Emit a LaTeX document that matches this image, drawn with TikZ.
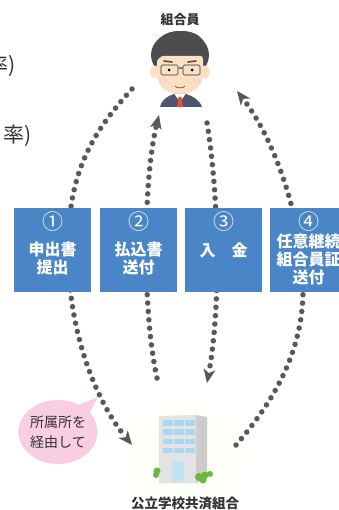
\documentclass[tikz,border=0pt]{standalone}
\usepackage{fontspec}
\setmainfont{Noto Sans CJK JP}
\usetikzlibrary{arrows.meta,shapes.callouts}
\definecolor{boxblue}{RGB}{74,134,199}
\definecolor{dotgray}{RGB}{88,88,88}
\definecolor{bubblepink}{RGB}{248,206,224}
\definecolor{hair}{RGB}{77,77,80}
\definecolor{skin}{RGB}{253,224,196}
\definecolor{suit}{RGB}{76,86,112}
\definecolor{tiered}{RGB}{232,80,58}
\definecolor{winblue}{RGB}{170,214,240}
\definecolor{leaf}{RGB}{106,184,60}
\definecolor{txt}{RGB}{51,51,51}
\tikzset{
  procbox/.style={fill=boxblue, minimum width=77pt, minimum height=84pt, inner sep=0pt},
  numtext/.style={text=white, inner sep=0pt, font=\fontsize{21}{21}\selectfont},
  steptext/.style={text=white, align=center, inner sep=0pt, font=\bfseries\fontsize{16}{18}\selectfont},
  roletext/.style={text=txt, inner sep=0pt, font=\bfseries\fontsize{13}{13}\selectfont},
  dotflow/.style={dotgray, line width=5.5pt, line cap=round, dash pattern=on 0pt off 8.4pt,
    -{Stealth[length=14pt,width=12pt,inset=4pt,line width=0pt]}},
}
\newcommand{\procstep}[5]{\node[procbox] (#1) at (#2,250) {};
  \node[numtext] at (#2,222) {#3}; \node[steptext] at (#2,#4) {#5};}

\begin{document}
\begin{tikzpicture}[x=1pt,y=-1pt]
  \useasboundingbox (0,0) rectangle (339,510);
  % cut-off text at the left edge
  \node[anchor=east, inner sep=0pt, text=txt, font=\fontsize{21}{21}\selectfont] (cut1) at (16,66) {率)};
  \node[anchor=east, inner sep=0pt, text=txt, font=\fontsize{21}{21}\selectfont] (cut2) at (32,136) {率)};

  % member
  \node[roletext] (memlabel) at (180,20) {組合員};
  \node[minimum width=60pt, minimum height=76pt] (member) at (180,69) {};
  \fill[hair] (180,55) ellipse (29 and 24);
  \fill[skin] (155,72) ellipse (5 and 6.5);
  \fill[skin] (205,72) ellipse (5 and 6.5);
  \fill[skin] (175,88) rectangle (185,97);
  \fill[skin] (157,56) -- (157,74) .. controls (158,89) and (168,94) .. (180,94)
    .. controls (192,94) and (202,89) .. (203,74) -- (203,56) -- cycle;
  \fill[hair] (155,66) .. controls (150,40) and (163,31) .. (181,31) .. controls (200,31) and (211,42) .. (206,66)
    -- (203,58) .. controls (199,52) and (190,49) .. (184,47) .. controls (176,52) and (166,52) .. (158,59) -- cycle;
  \fill[pink!70] (163,81) ellipse (4 and 2.5);
  \fill[pink!70] (197,81) ellipse (4 and 2.5);
  \draw[hair, line width=1.6pt, line cap=round] (164,61) -- (172,62);
  \draw[hair, line width=1.6pt, line cap=round] (188,62) -- (196,61);
  \draw[gray, line width=1.2pt, rounded corners=2pt] (161,65) rectangle (178,75);
  \draw[gray, line width=1.2pt, rounded corners=2pt] (183,65) rectangle (200,75);
  \draw[gray, line width=1.2pt] (178,68) -- (183,68);
  \fill[black] (169,70) circle (1.5);
  \fill[black] (192,70) circle (1.5);
  \draw[brown!70!black, line width=0.8pt] (175,86) .. controls (177,88.5) and (183,88.5) .. (185,86);
  \fill[suit] (160,107) .. controls (162,99) and (168,96) .. (174,94) -- (186,94)
    .. controls (192,96) and (199,99) .. (202,107) -- cycle;
  \fill[white] (174.5,94) -- (185.5,94) -- (180,102) -- cycle;
  \fill[tiered] (178.5,97) -- (181.5,97) -- (183,107) -- (177,107) -- cycle;

  % school union building
  \shade[inner color=yellow!5, outer color=white] (185,455) ellipse (78 and 62);
  \node[minimum width=50pt, minimum height=70pt] (school) at (184,449) {};
  \fill[gray!22] (159,416) -- (196,415) -- (196,483) -- (159,483) -- cycle;
  \fill[gray!40] (196,415) -- (207,417) -- (207,479) -- (196,483) -- cycle;
  \foreach \c in {0,1,2}
    \foreach \r in {0,1,2,3}
      \fill[winblue] ({163+\c*11},{420+\r*9.3}) rectangle +(9.5,5.5);
  \fill[winblue!70] (172,461) rectangle (184,482);
  \fill[leaf] (157,471) circle (3.5);
  \fill[leaf] (156,475) circle (3);
  \fill[leaf] (199,477) circle (4);
  \fill[leaf] (205,475) circle (3.5);
  \fill[leaf] (210,474) circle (3);
  \fill[leaf] (203,480) circle (3.5);
  \node[roletext, font=\bfseries\fontsize{13.5}{13.5}\selectfont] (schlabel) at (185,503) {公立学校共済組合};

  % arrow ends
  \coordinate (mem1) at (132,89);  \coordinate (sch1) at (132,445);
  \coordinate (sch2) at (157,378); \coordinate (mem2) at (159,115);
  \coordinate (mem3) at (207,123); \coordinate (sch3) at (207,383);
  \coordinate (sch4) at (236,445); \coordinate (mem4) at (237,91);
  \draw[dotflow] (mem1) .. controls (90,135) and (68,175) .. (68,250) .. controls (68,330) and (95,400) .. (sch1);
  \draw[dotflow] (sch2) .. controls (142,310) and (143,180) .. (mem2);
  \draw[dotflow] (mem3) .. controls (218,190) and (222,300) .. (sch3);
  \draw[dotflow] (sch4) .. controls (275,400) and (303,350) .. (303,290) .. controls (303,220) and (275,140) .. (mem4);

  % steps
  \procstep{s1}{52.5}{①}{258}{申出書\\提出}
  \procstep{s2}{138.5}{②}{258}{払込書\\送付}
  \procstep{s3}{223.5}{③}{250}{入　金}
  \procstep{s4}{308.5}{④}{259.5}{任意継続\\組合員証\\送付}

  % note
  \node[ellipse callout, fill=bubblepink, minimum width=74pt, minimum height=64pt, inner sep=0pt,
    callout absolute pointer={(98,397)}, callout pointer arc=22, text=txt, align=center,
    font=\fontsize{14}{20}\selectfont] (via) at (58,432) {所属所を\\経由して};
\end{tikzpicture}
\end{document}
